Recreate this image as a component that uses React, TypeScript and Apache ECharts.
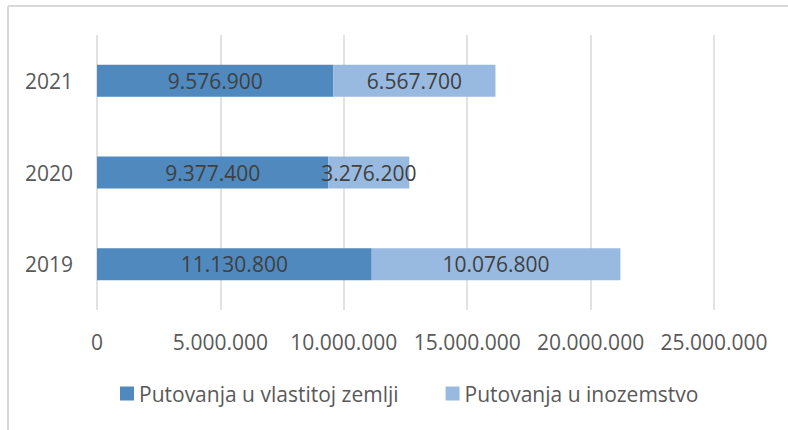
import React, { useEffect, useRef } from "react";
import * as echarts from "echarts";

const categories = ["2019", "2020", "2021"];
const domesticValues = [11130800, 9377400, 9576900];
const abroadValues = [10076800, 3276200, 6567700];
const seriesNames = ["Putovanja u vlastitoj zemlji", "Putovanja u inozemstvo"];
const axisMax = 25000000;
const axisInterval = 5000000;

const fmt = (v: number) =>
  String(Math.round(v)).replace(/\B(?=(\d{3})+(?!\d))/g, ".");

const FONT = "Open Sans";
const FS = 21;

export default function App() {
  const ref = useRef<HTMLDivElement>(null);
  useEffect(() => {
    if (!ref.current) return;
    const chart = echarts.init(ref.current, undefined, { renderer: "svg" });
    chart.setOption({
      animation: false,
      backgroundColor: "#ffffff",
      textStyle: { fontFamily: FONT },
      grid: { left: 97, right: 74, top: 35, bottom: 120, containLabel: false },
      xAxis: {
        type: "value",
        min: 0,
        max: axisMax,
        interval: axisInterval,
        axisLine: { show: false },
        axisTick: { show: false },
        splitLine: { show: true, lineStyle: { color: "#d9d9d9", width: 1.5 } },
        axisLabel: {
          formatter: (v: number) => fmt(v),
          color: "#595959",
          fontSize: FS,
          fontFamily: FONT,
          margin: 21,
        },
      },
      yAxis: {
        type: "category",
        data: categories,
        axisLine: { show: false },
        axisTick: { show: false },
        axisLabel: { color: "#595959", fontSize: FS, fontFamily: FONT, margin: 24 },
      },
      legend: {
        left: 120,
        top: 383,
        padding: 0,
        itemWidth: 14,
        itemHeight: 14,
        itemGap: 47,
        icon: "rect",
        textStyle: { color: "#595959", fontSize: FS, fontFamily: FONT },
        data: seriesNames,
      },
      graphic: [
        {
          type: "line",
          shape: { x1: 8, y1: 6, x2: 788, y2: 6 },
          style: { stroke: "#d9d9d9", lineWidth: 2 },
        },
        {
          type: "line",
          shape: { x1: 8, y1: 6, x2: 8, y2: 430 },
          style: { stroke: "#d9d9d9", lineWidth: 2 },
        },
      ],
      series: [
        {
          name: seriesNames[0],
          type: "bar",
          stack: "total",
          data: domesticValues,
          barWidth: 32,
          itemStyle: { color: "#4f89be" },
          label: {
            show: true,
            position: "inside",
            formatter: (p: any) => fmt(p.value),
            color: "#404040",
            fontSize: FS,
            fontFamily: FONT,
          },
        },
        {
          name: seriesNames[1],
          type: "bar",
          stack: "total",
          data: abroadValues,
          barWidth: 32,
          itemStyle: { color: "#99bae0" },
          label: {
            show: true,
            position: "inside",
            formatter: (p: any) => fmt(p.value),
            color: "#404040",
            fontSize: FS,
            fontFamily: FONT,
          },
        },
      ],
    });
    return () => chart.dispose();
  }, []);
  return (
    <div
      ref={ref}
      style={{ position: "absolute", left: 0, top: 0, width: 788, height: 430 }}
    />
  );
}
